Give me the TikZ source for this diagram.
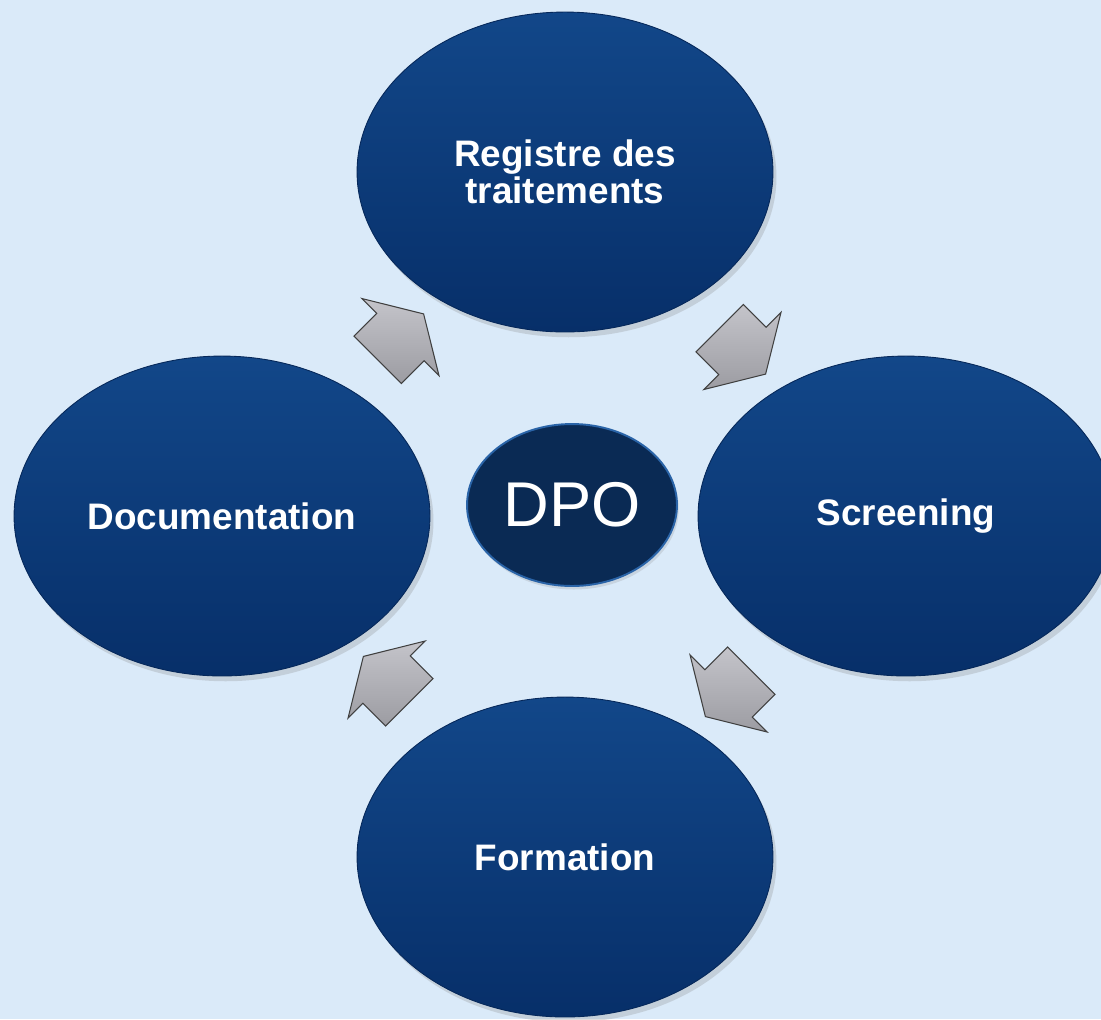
\documentclass[tikz,border=0pt]{standalone}
\usepackage{fontspec}
\setmainfont{Liberation Sans}
\usetikzlibrary{shapes.geometric,shapes.arrows,shadows,calc}

\definecolor{bgblue}{HTML}{DAEAF9}
\definecolor{navytop}{HTML}{124789}
\definecolor{navymid}{HTML}{0B3C7C}
\definecolor{navybot}{HTML}{072F69}
\definecolor{navyrim}{HTML}{06285A}
\definecolor{dponavy}{HTML}{0A2A54}
\definecolor{dporim}{HTML}{2A64A8}
\definecolor{greylight}{HTML}{C4C4CA}
\definecolor{greydark}{HTML}{9C9CA2}

\tikzset{
    phase/.style={ellipse, inner sep=0pt,
        minimum width=8.32cm, minimum height=6.4cm,
        top color=navytop, middle color=navymid, bottom color=navybot,
        draw=navyrim, line width=0.5pt,
        drop shadow={shadow xshift=2pt, shadow yshift=-3pt, opacity=0.25},
        text=white, align=center, font=\bfseries\fontsize{21}{21}\selectfont},
    centre/.style={ellipse, inner sep=0pt,
        minimum width=4.2cm, minimum height=3.24cm,
        fill=dponavy, draw=dporim, line width=1.1pt,
        drop shadow={shadow xshift=1pt, shadow yshift=-2pt, opacity=0.2},
        text=white, font=\fontsize{36}{36}\selectfont},
    cyclearrow/.style={single arrow, inner xsep=0pt, inner ysep=0.66cm,
        minimum height=1.3cm,
        single arrow head extend=0.42cm, single arrow tip angle=118,
        top color=greylight, bottom color=greydark,
        draw=gray!50!black, line width=0.6pt},
}

\begin{document}
\begin{tikzpicture}[x=0.02cm, y=-0.02cm]
    \fill[bgblue] (0, 0) rectangle (1101, 1019);
    \useasboundingbox (0, 0) rectangle (1101, 1019);
    \clip (0, 0) rectangle (1101, 1019);

    % the four steps of the cycle
    \node[phase] (reg) at (565, 172) {Registre des\\traitements};
    \node[phase] (scr) at (906, 516) {Screening};
    \node[phase] (frm) at (565, 857) {Formation};
    \node[phase] (doc) at (222, 516) {Documentation};

    % centre
    \node[centre] (dpo) at (572, 505) {DPO};

    % arrows, clockwise
    \node[cyclearrow, rotate=45] (a1) at ($(doc)!0.5!(reg)$) {};
    \node[cyclearrow, rotate=-45] (a2) at ($(reg)!0.5!(scr)$) {};
    \node[cyclearrow, rotate=-135] (a3) at ($(scr)!0.5!(frm)$) {};
    \node[cyclearrow, rotate=135] (a4) at ($(frm)!0.5!(doc)$) {};
\end{tikzpicture}
\end{document}
